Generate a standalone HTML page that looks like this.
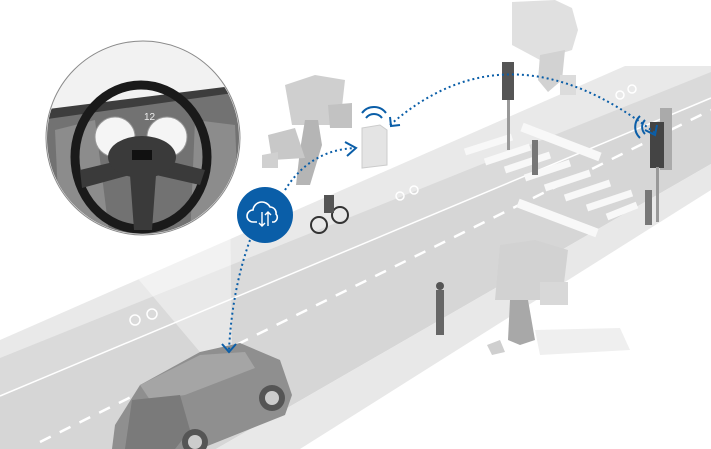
<!DOCTYPE html>
<html><head><meta charset="utf-8"><style>html,body{margin:0;padding:0;background:#fff}svg{display:block}</style></head><body>
<svg width="711" height="449" viewBox="0 0 711 449" xmlns="http://www.w3.org/2000/svg">
<rect width="711" height="449" fill="#fff"/>
<!-- upper sidewalk -->
<polygon points="0,340 625,66 711,66 711,98 0,396" fill="#e9e9e9"/>
<!-- bike lane band -->
<polygon points="0,358 711,72 711,98 0,396" fill="#dadada"/>
<!-- road -->
<polygon points="0,396 711,98 711,164 216,449 0,449" fill="#d6d6d6"/>
<!-- lower sidewalk -->
<polygon points="216,449 711,164 711,190 300,449" fill="#e8e8e8"/>
<!-- beam cone -->
<polygon points="90,222 230,200 232,352 205,358" fill="#fff" opacity="0.4"/>
<!-- edge lines -->
<line x1="0" y1="396" x2="711" y2="98" stroke="#fff" stroke-width="1.5"/>
<line x1="40" y1="442" x2="711" y2="110" stroke="#fff" stroke-width="2.5" stroke-dasharray="12,10"/>
<!-- crosswalk -->
<g stroke="#f8f8f8" stroke-width="7" stroke-linecap="butt">
<line x1="465" y1="152" x2="512" y2="137"/>
<line x1="485" y1="162" x2="530" y2="147"/>
<line x1="505" y1="170" x2="550" y2="155"/>
<line x1="525" y1="178" x2="570" y2="163"/>
<line x1="545" y1="188" x2="590" y2="173"/>
<line x1="565" y1="198" x2="610" y2="183"/>
<line x1="587" y1="208" x2="632" y2="193"/>
<line x1="607" y1="217" x2="637" y2="205"/>
<line x1="522" y1="127" x2="600" y2="157" stroke-width="9"/>
<line x1="518" y1="203" x2="597" y2="233" stroke-width="9"/>
</g>
<!-- bike symbols -->
<g stroke="#fff" fill="none" stroke-width="1.5"><circle cx="135" cy="320" r="5"/><circle cx="152" cy="314" r="5"/><circle cx="400" cy="196" r="4"/><circle cx="414" cy="190" r="4"/><circle cx="620" cy="95" r="4"/><circle cx="632" cy="89" r="4"/></g>
<!-- trees -->
<g>
<polygon points="512,2 555,0 572,8 578,30 572,50 540,60 512,45" fill="#e0e0e0"/>
<polygon points="540,55 565,50 562,80 548,92 538,80" fill="#d2d2d2"/>
<polygon points="560,75 576,75 576,95 560,95" fill="#dcdcdc"/>
<polygon points="285,85 315,75 345,80 340,125 292,125" fill="#cfcfcf"/>
<polygon points="305,120 318,120 322,145 310,185 296,185 300,150" fill="#b5b5b5"/>
<polygon points="268,135 295,128 305,158 272,160" fill="#c8c8c8"/>
<polygon points="262,155 278,152 278,168 262,168" fill="#d0d0d0"/>
<polygon points="328,105 352,103 352,128 330,128" fill="#c2c2c2"/>
<polygon points="500,245 535,240 568,250 562,300 495,300" fill="#d2d2d2"/>
<polygon points="540,282 568,282 568,305 540,305" fill="#d8d8d8"/>
<polygon points="510,300 528,300 535,340 520,345 508,340" fill="#a8a8a8"/>
<polygon points="487,345 500,340 505,352 492,355" fill="#cfcfcf"/>
<polygon points="535,330 620,328 630,350 540,355" fill="#efefef"/>
</g>
<!-- sensor post -->
<polygon points="362,128 380,125 387,130 387,165 362,168" fill="#e4e4e4" stroke="#ccc"/>
<!-- traffic lights -->
<rect x="502" y="62" width="12" height="38" fill="#555"/><rect x="507" y="100" width="3" height="50" fill="#999"/>
<rect x="660" y="108" width="12" height="62" fill="#aaa"/>
<rect x="650" y="122" width="14" height="46" fill="#444"/><rect x="656" y="167" width="3" height="55" fill="#999"/>
<!-- people -->
<rect x="436" y="290" width="8" height="45" fill="#666"/><circle cx="440" cy="286" r="4" fill="#555"/>
<rect x="532" y="140" width="6" height="35" fill="#777"/>
<rect x="645" y="190" width="7" height="35" fill="#777"/>
<!-- cyclist -->
<g stroke="#333" fill="none" stroke-width="2"><circle cx="319" cy="225" r="8"/><circle cx="340" cy="215" r="8"/></g>
<rect x="324" y="195" width="10" height="18" fill="#555"/>
<!-- car -->
<polygon points="115,425 140,385 200,352 240,343 280,360 292,395 285,415 200,449 112,449" fill="#8f8f8f"/>
<polygon points="140,385 200,355 245,352 255,368 185,395 150,400" fill="#a5a5a5"/>
<polygon points="132,400 180,395 190,430 175,449 125,449" fill="#7a7a7a"/>
<circle cx="272" cy="398" r="13" fill="#555"/><circle cx="272" cy="398" r="7" fill="#ccc"/>
<circle cx="195" cy="442" r="13" fill="#555"/><circle cx="195" cy="442" r="7" fill="#ccc"/>
<!-- magnifier -->
<circle cx="143" cy="138" r="97" fill="#f2f2f2" stroke="#8a8a8a" stroke-width="1"/>
<clipPath id="c"><circle cx="143" cy="138" r="96"/></clipPath>
<g clip-path="url(#c)">
<polygon points="40,113 240,88 240,240 40,240" fill="#727272"/>
<polygon points="40,110 240,85 240,92 40,120" fill="#3d3d3d"/>
<polygon points="55,130 95,120 110,240 60,240" fill="#8c8c8c"/>
<polygon points="195,120 235,125 240,240 190,240" fill="#8c8c8c"/>
<circle cx="115" cy="137" r="20" fill="#f5f5f5" stroke="#999"/>
<circle cx="167" cy="137" r="20" fill="#f5f5f5" stroke="#999"/>
<ellipse cx="141" cy="157" rx="66" ry="72" fill="none" stroke="#1a1a1a" stroke-width="9"/>
<path d="M80,170 L130,158 L156,158 L205,170 L200,185 L156,175 L152,230 L134,230 L130,175 L82,188 Z" fill="#3a3a3a"/>
<ellipse cx="142" cy="157" rx="34" ry="21" fill="#3a3a3a"/>
<rect x="132" y="150" width="20" height="10" fill="#111"/>
<text x="144" y="120" font-family="Liberation Sans, sans-serif" font-size="10" fill="#eee">12</text>
</g>
<!-- dotted arcs -->
<g fill="none" stroke="#0a5ea8" stroke-width="2" stroke-dasharray="2,3">
<path d="M250,240 Q232,290 229,350"/>
<path d="M285,190 Q310,150 355,148"/>
<path d="M390,125 Q510,20 655,133"/>
</g>
<g fill="none" stroke="#0a5ea8" stroke-width="2">
<path d="M222,344 L229,352 L236,344"/>
<path d="M345,142 L356,148 L347,156"/>
<path d="M390,117 L391,126 L400,125"/>
<path d="M645,130 L655,135 L657,125"/>
<path d="M366,118 a10,10 0 0 1 16,0 M362,113 a15,15 0 0 1 24,0"/>
<path d="M645,120 a10,10 0 0 0 0,14 M640,116 a15,15 0 0 0 0,22"/>
</g>
<!-- cloud badge -->
<circle cx="265" cy="215" r="28" fill="#0a5ea8"/>
<path d="M257,222 h-4 a6,6 0 0 1 0,-12 a9,9 0 0 1 17,-3 a6,6 0 0 1 6,7 a5,5 0 0 1 -2,8 h-2" fill="none" stroke="#fff" stroke-width="1.6"/>
<path d="M262,212 v14 M259,223 l3,3 3,-3 M268,226 v-14 M265,215 l3,-3 3,3" fill="none" stroke="#fff" stroke-width="1.4"/>
</svg>
</body></html>
